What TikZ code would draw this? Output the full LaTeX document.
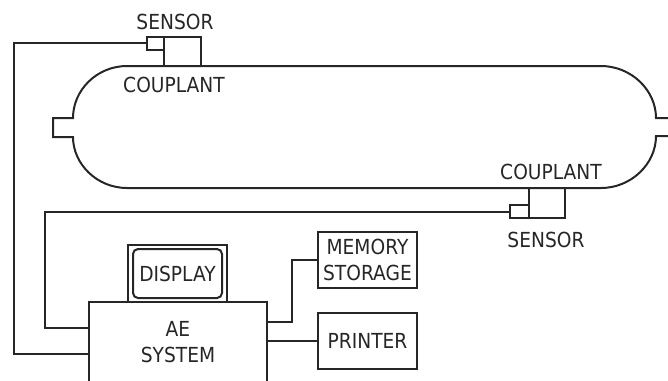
\documentclass[tikz,border=0pt]{standalone}
\usepackage{fontspec}
\setmainfont{DejaVu Sans}[FakeStretch=0.9]
\tikzset{
  ln/.style={line width=2bp,draw=black!85,line join=miter},
  boxn/.style={ln,rectangle,inner sep=0pt,outer sep=0pt,text=black!85,align=center,font=\fontsize{20.8}{26.2}\selectfont},
  lbl/.style={inner sep=0pt,text=black!85,font=\fontsize{20.8}{26.2}\selectfont}
}
\begin{document}
\begin{tikzpicture}[x=1bp,y=-1bp]
\useasboundingbox (0,0) rectangle (668,380);
% vessel
\draw[ln] (127,66) -- (601,66) .. controls (631,66) and (656,90) .. (656,118) -- (668,118)
  (668,136) -- (656,136) .. controls (656,164) and (631,188) .. (601,188) -- (127,188)
  .. controls (97,188) and (73,164) .. (73,137) -- (53,137) -- (53,118) -- (73,118)
  .. controls (73,90) and (97,66) .. (127,66);
% sensors
\node[boxn,minimum width=37bp,minimum height=29bp] (c1) at (182.5,51.5) {};
\node[boxn,minimum width=17bp,minimum height=13bp] (s1) at (155.5,43.5) {};
\node[boxn,minimum width=36bp,minimum height=30bp] (c2) at (547,203) {};
\node[boxn,minimum width=19bp,minimum height=13bp] (s2) at (519.5,211.5) {};
\node[lbl] (t1) at (175,22) {SENSOR};
\node[lbl] (t2) at (174,85) {COUPLANT};
\node[lbl] (t3) at (551,172) {COUPLANT};
\node[lbl] (t4) at (546,240) {SENSOR};
% equipment
\node[boxn,minimum width=99bp,minimum height=57bp] (dsp) at (177.5,273.5) {};
\node[boxn,rounded corners=5bp,minimum width=89bp,minimum height=49bp] (dspin) at (177.5,273.5) {DISPLAY};
\node[boxn,minimum width=178bp,minimum height=80bp] (ae) at (178,342) {AE\\SYSTEM};
\node[boxn,minimum width=99bp,minimum height=56bp] (mem) at (367.5,260) {MEMORY\\STORAGE};
\node[boxn,minimum width=99bp,minimum height=56bp] (prn) at (367.5,341) {PRINTER};
% connectors
\coordinate (w1) at (14,354);
\coordinate (w2) at (45,328);
\coordinate (w3) at (292,322);
\draw[ln] ([yshift=0.5bp]s1.west) -| (w1) -- (w1 -| ae.west);
\draw[ln] ([yshift=-0.5bp]s2.west) -| (w2) -- (w2 -| ae.west);
\draw[ln] (w3 -| ae.east) -- (w3) |- (mem.west);
\draw[ln] (prn.west) -- (prn.west -| ae.east);
\end{tikzpicture}
\end{document}
